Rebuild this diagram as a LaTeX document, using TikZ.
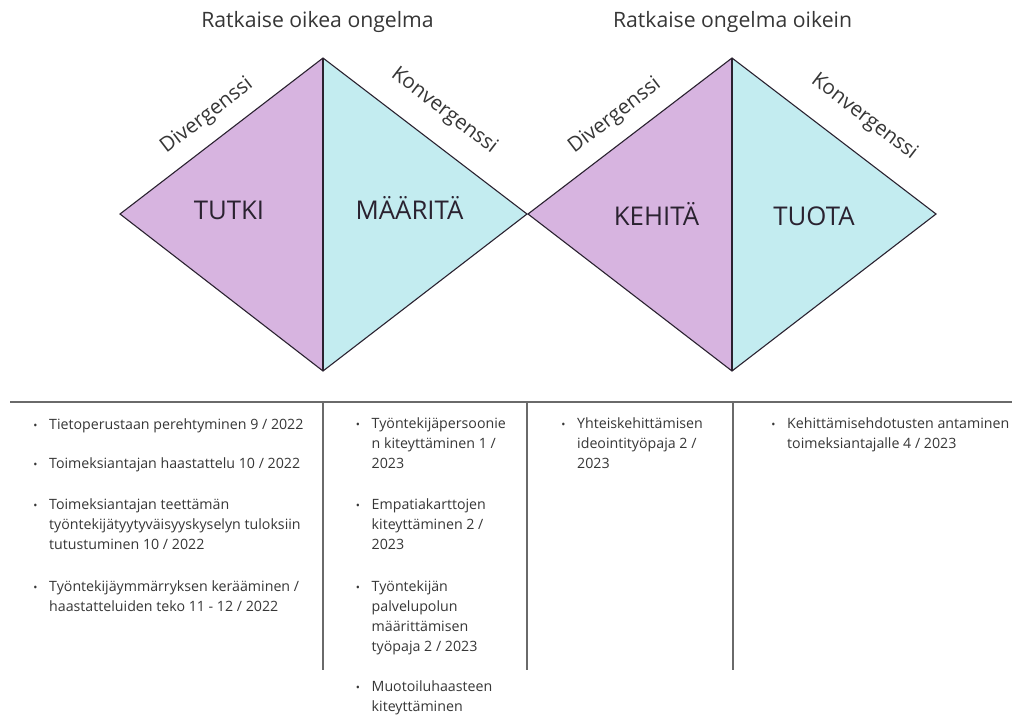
\documentclass[tikz,border=0pt]{standalone}
\usepackage{fontspec}
\setmainfont{Open Sans}
\definecolor{lilac}{HTML}{D7B4E0}
\definecolor{aqua}{HTML}{C3ECF0}
\definecolor{ink}{HTML}{363636}
\definecolor{deep}{HTML}{2A2230}
\definecolor{rulegray}{HTML}{6A6A6A}
% a bulleted entry whose anchor is the baseline of its first line
\newcommand\bitem[4]{%
  \node[item] (#1) at (#2,#3) {\begin{tabular}[t]{@{}l@{}}#4\end{tabular}};
  \node[bul] at ([xshift=-13.5pt]#1.base west) {\textbullet};}
\begin{document}
\begin{tikzpicture}[x=1pt,y=-1pt,
  edge/.style={draw=deep,line width=1.1pt,line join=miter},
  spine/.style={draw=deep,line width=1.8pt},
  heading/.style={anchor=base,inner sep=0pt,text=ink,font=\fontsize{21.2}{25}\selectfont},
  phase/.style={anchor=base,inner sep=0pt,text=deep,font=\fontsize{25.8}{30}\selectfont},
  side/.style={inner sep=0pt,text=ink,font=\fontsize{20.5}{24}\selectfont},
  item/.style={anchor=base west,inner sep=0pt,text=ink,font=\fontsize{14.2}{20}\selectfont},
  bul/.style={anchor=base,inner sep=0pt,text=ink,font=\fontsize{11}{14}\selectfont},
  sep/.style={draw=rulegray,line width=1.3pt}]
\useasboundingbox (0,0) rectangle (1019,716);

% corner points of the two diamonds
\coordinate (L1) at (120,214);
\coordinate (T1) at (323,58);
\coordinate (B1) at (323,371);
\coordinate (R1) at (527,214);
\coordinate (L2) at (528,214);
\coordinate (T2) at (732,58);
\coordinate (B2) at (732,371);
\coordinate (R2) at (936,214);

% halves of the diamonds
\fill[lilac] (L1) -- (T1) -- (B1) -- cycle;
\fill[aqua]  (T1) -- (R1) -- (B1) -- cycle;
\fill[lilac] (L2) -- (T2) -- (B2) -- cycle;
\fill[aqua]  (T2) -- (R2) -- (B2) -- cycle;
\draw[edge] (L1) -- (T1) -- (R1) -- (B1) -- cycle;
\draw[edge] (L2) -- (T2) -- (R2) -- (B2) -- cycle;
\draw[spine] (T1) -- (B1);
\draw[spine] (T2) -- (B2);

% headings
\node[heading] (h1) at (317.5,27) {Ratkaise oikea ongelma};
\node[heading] (h2) at (732.5,27) {Ratkaise ongelma oikein};

% edge labels
\node[side,rotate=37.5]  (dv1) at (207,116) {Divergenssi};
\node[side,rotate=-37.5] (kv1) at (444,111) {Konvergenssi};
\node[side,rotate=37.5]  (dv2) at (615,116) {Divergenssi};
\node[side,rotate=-37.5] (kv2) at (864,117) {Konvergenssi};

% phase names
\node[phase] (p1) at (229,219) {TUTKI};
\node[phase] (p2) at (409.5,219) {MÄÄRITÄ};
\node[phase] (p3) at (656.5,225) {KEHITÄ};
\node[phase] (p4) at (814,225) {TUOTA};

% table rules
\coordinate (hl) at (10,402);
\coordinate (hr) at (1012,402);
\draw[sep] (hl) -- (hr);
\foreach \x/\n in {323/a,527/b,733/c}{
  \coordinate (top\n) at (\x,402);
  \coordinate (bot\n) at (\x,670);
  \draw[sep] (top\n) -- (bot\n);
}

% column 1
\bitem{a1}{49}{429.5}{Tietoperustaan perehtyminen 9 / 2022}
\bitem{a2}{49}{468}{Toimeksiantajan haastattelu 10 / 2022}
\bitem{a3}{49}{509.5}{Toimeksiantajan teettämän\\työntekijätyytyväisyyskyselyn tuloksiin\\tutustuminen 10 / 2022}
\bitem{a4}{49}{591}{Työntekijäymmärryksen kerääminen /\\haastatteluiden teko 11 - 12 / 2022}

% column 2
\bitem{b1}{371.5}{428}{Työntekijäpersoonie\\n kiteyttäminen 1 /\\2023}
\bitem{b2}{371.5}{509.5}{Empatiakarttojen\\kiteyttäminen 2 /\\2023}
\bitem{b3}{371.5}{591}{Työntekijän\\palvelupolun\\määrittämisen\\työpaja 2 / 2023}
\bitem{b4}{371.5}{691}{Muotoiluhaasteen\\kiteyttäminen}

% column 3
\bitem{c1}{577}{428}{Yhteiskehittämisen\\ideointityöpaja 2 /\\2023}

% column 4
\bitem{d1}{787}{428}{Kehittämisehdotusten antaminen\\toimeksiantajalle 4 / 2023}
\end{tikzpicture}
\end{document}
